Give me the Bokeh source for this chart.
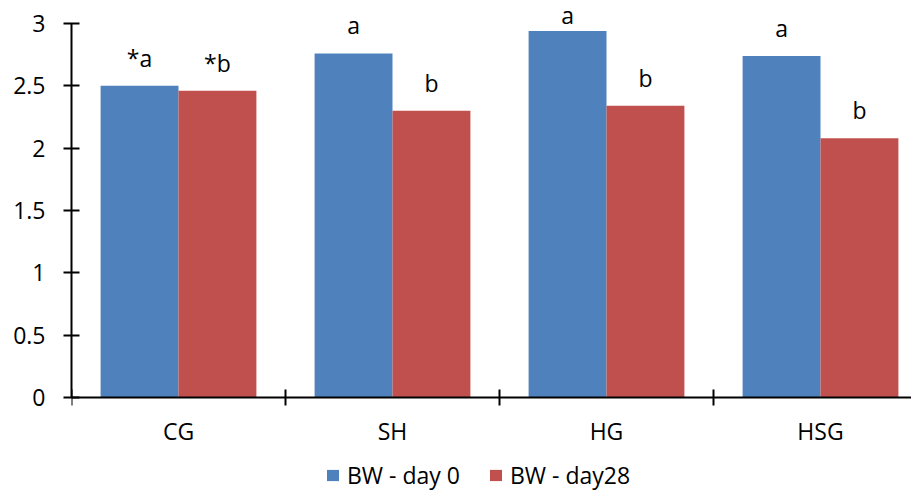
import math
from bokeh.plotting import figure
from bokeh.models import (LinearAxis, FixedTicker, Range1d, ColumnDataSource,
                          Legend, LegendItem)
from bokeh.core.properties import value
from bokeh.embed import file_html
from bokeh.resources import INLINE

categories = ["CG", "SH", "HG", "HSG"]
day0 = [2.50, 2.76, 2.94, 2.74]
day28 = [2.46, 2.30, 2.34, 2.08]
labels0 = ["*a", "a", "a", "a"]
labels28 = ["*b", "b", "b", "b"]
series_names = ["BW - day 0", "BW - day28"]
ytick_values = [0, 0.5, 1, 1.5, 2, 2.5, 3]
ytick_labels = ["0", "0.5", "1", "1.5", "2", "2.5", "3"]

BLUE = "#4F81BD"
RED = "#C0504D"
FONT = "Open Sans"
FS = "23px"

W, H = 911, 491
LEFT = 71
PX_PER_UNIT = (397 - 23) / 3.0      # vertical pixels per value unit
PX_PER_CAT = 214.0                  # horizontal pixels per category
ZERO_Y = 397                        # pixel row of value 0
LABEL_CAP = 2.84                    # labels are kept inside the plot top

w = 0.364
idx = list(range(len(categories)))
x0 = [i + 0.5 - w / 2 for i in idx]
x1 = [i + 0.5 + w / 2 for i in idx]
centers = [i + 0.5 for i in idx]
bounds_x = [float(i) for i in range(len(categories) + 1)]

src0 = ColumnDataSource(dict(x=x0, top=day0, lab=labels0,
                             ly=[min(v, LABEL_CAP) for v in day0]))
src1 = ColumnDataSource(dict(x=x1, top=day28, lab=labels28,
                             ly=[min(v, LABEL_CAP) for v in day28]))

x_end = (W - LEFT) / PX_PER_CAT
y_start = -(H - ZERO_Y) / PX_PER_UNIT
y_end = ZERO_Y / PX_PER_UNIT

p = figure(width=W, height=H, output_backend="svg", toolbar_location=None,
           x_axis_type=None, y_axis_type=None,
           x_range=Range1d(0, x_end), y_range=Range1d(y_start, y_end),
           min_border_left=LEFT, min_border_right=0, min_border_top=0,
           min_border_bottom=0)
p.outline_line_color = None
p.grid.visible = False
p.background_fill_color = "white"
p.border_fill_color = "white"

r0 = p.vbar(x="x", top="top", bottom=0, width=w, source=src0,
            fill_color=BLUE, line_color=None)
r1 = p.vbar(x="x", top="top", bottom=0, width=w, source=src1,
            fill_color=RED, line_color=None)

for src in (src0, src1):
    p.text(x="x", y="ly", text="lab", source=src, text_align="center",
           text_baseline="alphabetic", y_offset=-28,
           text_font=value(FONT), text_font_size=FS, text_color="black")

# category (x) axis: base line, boundary ticks and category labels
p.hspan(y=[0], line_color="black", line_width=2)
p.scatter(x=bounds_x, y=[0] * len(bounds_x), marker="dash",
          angle=math.pi / 2, size=16, line_color="black", line_width=2)
p.text(x=centers, y=[0] * len(centers), text=categories, text_align="center",
       text_baseline="alphabetic", y_offset=33,
       text_font=value(FONT), text_font_size=FS, text_color="black")

yaxis = LinearAxis(
    ticker=FixedTicker(ticks=ytick_values, minor_ticks=[]),
    major_label_overrides={v: s for v, s in zip(ytick_values, ytick_labels)},
    bounds=(0, 3),
    major_tick_in=8, major_tick_out=8,
    axis_line_color="black", axis_line_width=2,
    major_tick_line_color="black", major_tick_line_width=2,
    major_label_text_font=FONT, major_label_text_font_size=FS,
    major_label_text_color="black", major_label_standoff=18)
p.add_layout(yaxis, "left")

legend = Legend(items=[LegendItem(label=series_names[0], renderers=[r0]),
                       LegendItem(label=series_names[1], renderers=[r1])],
                orientation="horizontal", location=(254, 0),
                glyph_width=15, glyph_height=14, label_standoff=7,
                spacing=28, padding=0, margin=0, border_line_color=None,
                background_fill_alpha=0,
                label_text_font=FONT, label_text_font_size=FS,
                label_text_color="black")
p.add_layout(legend, "center")

open("out.html", "w").write(file_html(p, INLINE))
